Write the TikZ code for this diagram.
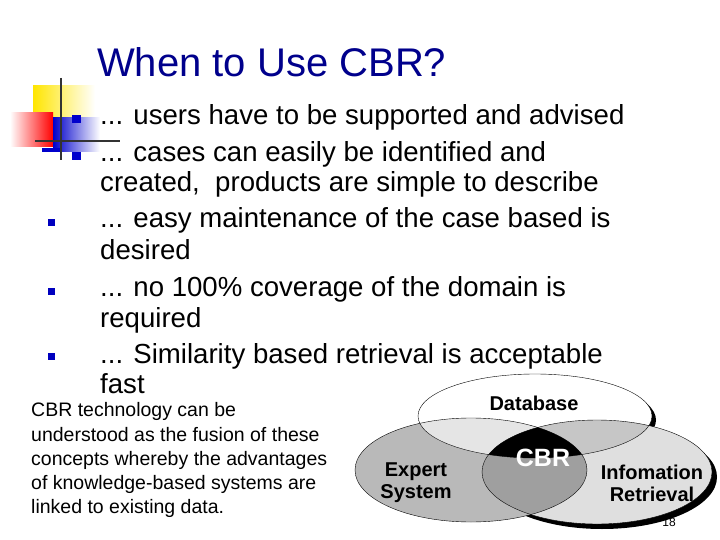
\documentclass[tikz,border=0pt]{standalone}
\usepackage{fontspec}
\setmainfont{Liberation Sans}
\begin{document}
\begin{tikzpicture}[x=1pt,y=-1pt,
  bul/.style={fill=blue!75!black,minimum size=7pt,inner sep=0,draw=none},
  btext/.style={anchor=base west,inner sep=0,font=\fontsize{27.6}{27.6}\selectfont},
  ptext/.style={anchor=base west,inner sep=0,font=\fontsize{19.5}{19.5}\selectfont},
  vlab/.style={font=\bfseries\fontsize{20}{22}\selectfont,align=center,inner sep=0}]
\useasboundingbox (0,0) rectangle (720,540);
\fill[white] (0,0) rectangle (720,540);
% decoration
\shade[left color=yellow!80!orange,right color=white] (33,86) rectangle (95,118);
\shade[left color=white,right color=red] (10,113) rectangle (53,147);
\shade[left color=blue!80!black,right color=white] (53,118) rectangle (100,152);
\fill[blue!80!black] (42,148) rectangle (62,152);
\fill[blue!80!black] (72,115) rectangle (81,123);
\fill[blue!80!black] (72,152) rectangle (81,160);
\draw[line width=1.3pt,black!80] (61,78) -- (61,160);
\draw[line width=1.3pt,black!80] (35,141) -- (120,141);
% title
\node[anchor=base west,inner sep=0,text=blue!55!black,font=\fontsize{40}{40}\selectfont] (title) at (97,77) {When to Use CBR?};
% bullets
\foreach \y [count=\i] in {223,291,356} \node[bul] (b\i) at (51,\y) {};
\node[btext] (l1) at (100,125) {... users have to be supported and advised};
\node[btext] (l2) at (100,162) {... cases can easily be identified and};
\node[btext] (l3) at (100,192) {created,\ \ products are simple to describe};
\node[btext] (l4) at (100,228) {... easy maintenance of the case based is};
\node[btext] (l5) at (100,259) {desired};
\node[btext] (l6) at (100,296) {... no 100\% coverage of the domain is};
\node[btext] (l7) at (100,327) {required};
\node[btext] (l8) at (100,363) {... Similarity based retrieval is acceptable};
\node[btext] (l9) at (100,393) {fast};
% paragraph
\node[ptext] (p1) at (31,416) {CBR technology can be};
\node[ptext] (p2) at (31,441) {understood as the fusion of these};
\node[ptext] (p3) at (31,465) {concepts whereby the advantages};
\node[ptext] (p4) at (31,489) {of knowledge-based systems are};
\node[ptext] (p5) at (31,513) {linked to existing data.};
% venn
\def\DB{(535,416) ellipse [x radius=117,y radius=42]}
\def\ES{(471,470) ellipse [x radius=116,y radius=52]}
\def\IR{(597,472) ellipse [x radius=115,y radius=52]}
\fill[black] (602,477) ellipse [x radius=115,y radius=52];
\fill[black] (539,420) ellipse [x radius=117,y radius=42];
\fill[gray!55] \ES;
\fill[gray!25] \IR;
\fill[white] \DB;
\begin{scope}\clip \ES; \fill[gray!75] \IR; \end{scope}
\begin{scope}\clip \DB; \fill[gray!20] \ES; \fill[gray!45] \IR;
  \clip \ES; \fill[black] \IR; \end{scope}
\draw[thin] \ES; \draw[thin] \IR; \draw[thin] \DB;
\node[vlab] (db) at (534,403) {Database};
\node[vlab,text=white,font=\bfseries\fontsize{25}{25}\selectfont] (cbr) at (543,458) {CBR};
\node[vlab] (es) at (416,483) {Expert\\System};
\node[vlab] (ir) at (652,483) {Infomation\\Retrieval};
\node[inner sep=0,font=\fontsize{12}{12}\selectfont] (num) at (669,522) {18};
\end{tikzpicture}
\end{document}
